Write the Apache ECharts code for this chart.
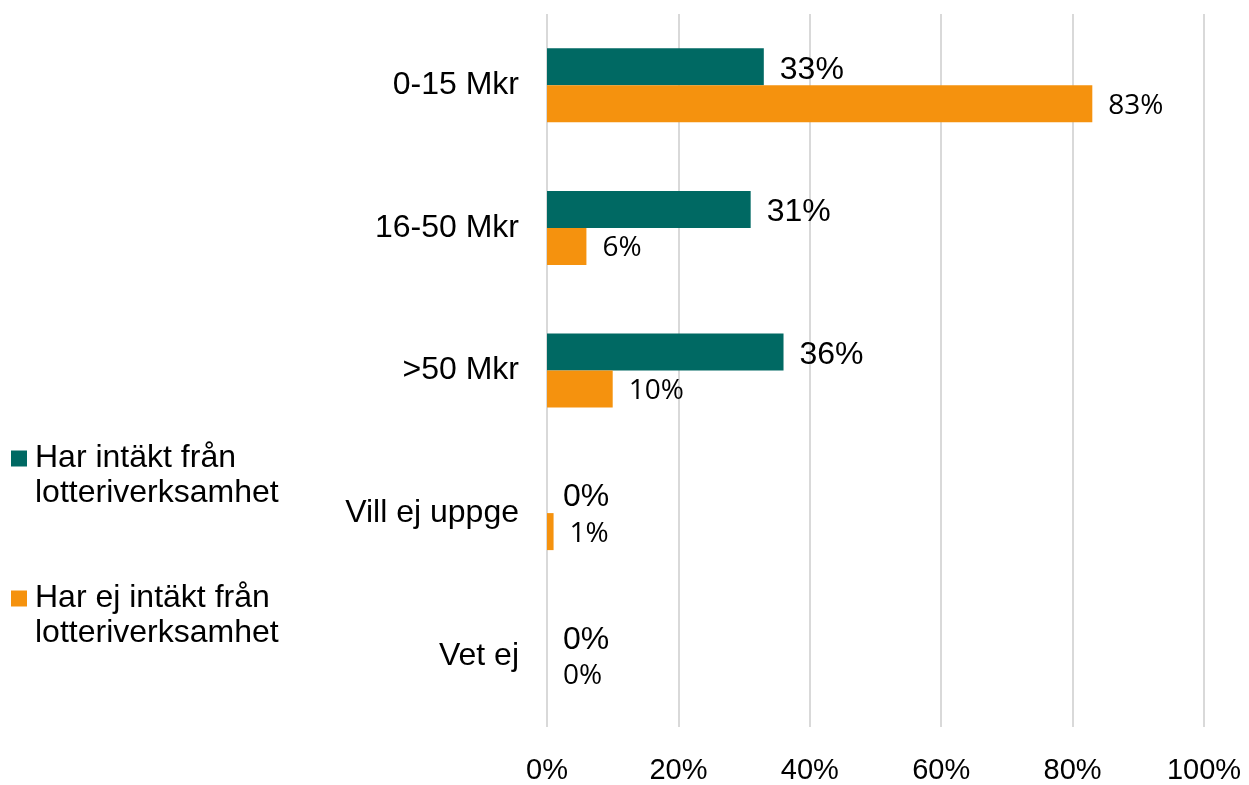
<!DOCTYPE html>
<html>
<head>
<meta charset="utf-8">
<style>
  html, body { margin: 0; padding: 0; background: #fff; }
  #main { width: 1249px; height: 785px; }
</style>
<script src="https://cdn.jsdelivr.net/npm/echarts@6/dist/echarts.min.js"></script>
</head>
<body>
<div id="main"></div>
<script>
// kategorier uppifrån och ner
var categories = ['0-15 Mkr', '16-50 Mkr', '>50 Mkr', 'Vill ej uppge', 'Vet ej']
var harIntakt = [33, 31, 36, 0, 0]
var harEjIntakt = [83, 6, 10, 1, 0]
var xTicks = [0, 100, 20] // min, max, steg

var teal = '#006963'
var orange = '#F5920E'
var arial = 'Liberation Sans, Arial, sans-serif'

var myChart = echarts.init(document.getElementById('main'))
myChart.setOption({
  animation: false,
  legend: {
    orient: 'vertical',
    left: 11,
    top: 406,
    padding: 0,
    itemWidth: 16,
    itemHeight: 16,
    itemGap: 35,
    icon: 'rect',
    // tom första rad så att ikonen hamnar vid textens första rad
    formatter: function(name) {
      return '\n' + name
    },
    textStyle: {
      fontFamily: arial,
      fontSize: 32,
      color: '#000',
      lineHeight: 35,
      padding: [0, 0, 0, 3]
    },
    data: ['Har intäkt från\nlotteriverksamhet', 'Har ej intäkt från\nlotteriverksamhet']
  },
  grid: {
    left: 547,
    right: 45,
    top: 14,
    bottom: 53,
    containLabel: false
  },
  xAxis: {
    type: 'value',
    min: xTicks[0],
    max: xTicks[1],
    interval: xTicks[2],
    axisLine: { show: false },
    axisTick: { show: false },
    splitLine: {
      lineStyle: { color: '#d9d9d9', width: 2 }
    },
    axisLabel: {
      formatter: '{value}%',
      fontFamily: arial,
      fontSize: 29,
      color: '#000',
      margin: 29
    }
  },
  yAxis: {
    type: 'category',
    inverse: true,
    data: categories,
    axisLine: { show: false },
    axisTick: { show: false },
    axisLabel: {
      fontFamily: arial,
      fontSize: 32,
      color: '#000',
      margin: 28
    }
  },
  series: [{
    name: 'Har intäkt från\nlotteriverksamhet',
    type: 'bar',
    data: harIntakt,
    barWidth: 37,
    barGap: 0,
    itemStyle: { color: teal },
    label: {
      show: true,
      position: 'right',
      distance: 16,
      offset: [0, 3],
      formatter: '{c}%',
      fontFamily: arial,
      fontSize: 32,
      color: '#000'
    }
  }, {
    name: 'Har ej intäkt från\nlotteriverksamhet',
    type: 'bar',
    data: harEjIntakt,
    barWidth: 37,
    barGap: 0,
    itemStyle: { color: orange },
    label: {
      show: true,
      position: 'right',
      distance: 16,
      offset: [0, 2],
      formatter: '{c}%',
      fontFamily: 'Open Sans, sans-serif',
      fontSize: 28,
      color: '#000'
    }
  }]
})
</script>
</body>
</html>
